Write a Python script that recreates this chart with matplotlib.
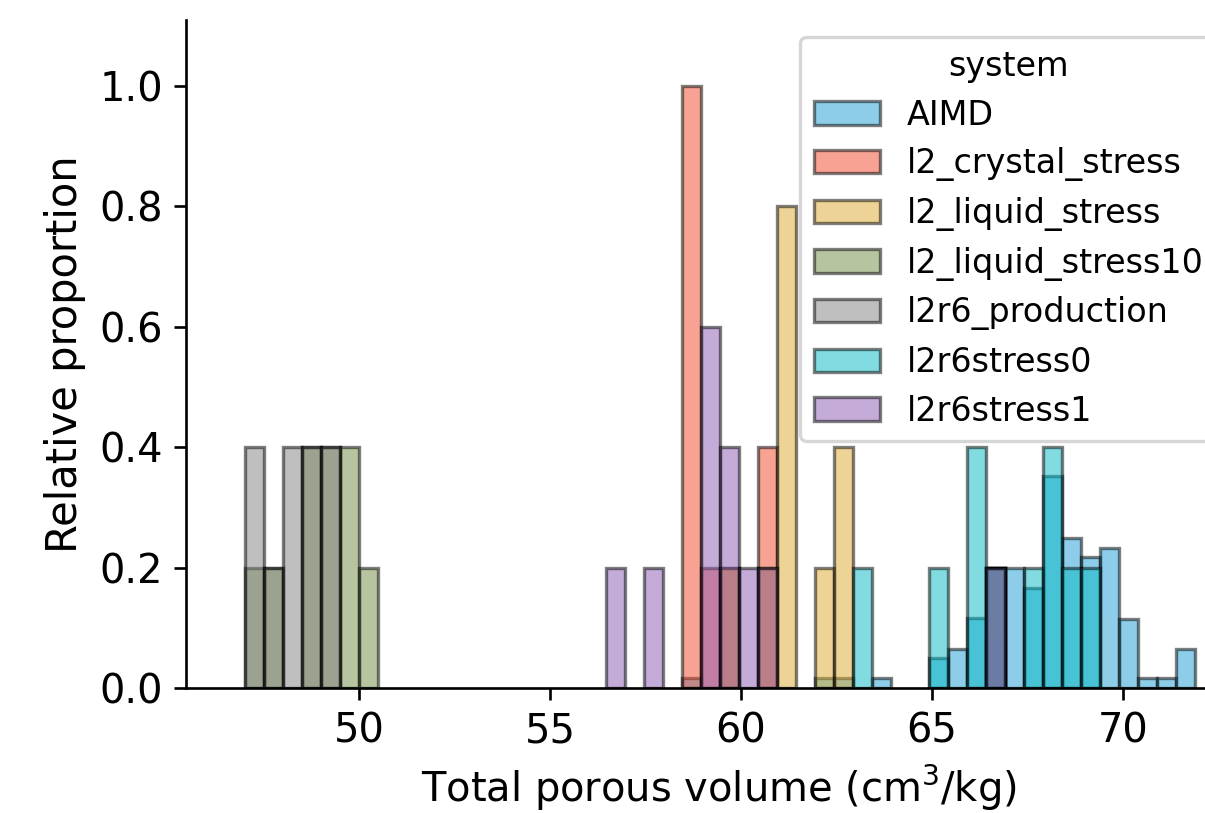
import numpy as np
import matplotlib
matplotlib.use("Agg")
import matplotlib.pyplot as plt
from matplotlib.patches import Patch

# histogram bins shared by all systems
bin_lo, bin_hi, n_bins = 47.02, 71.88, 50

systems = ["AIMD", "l2_crystal_stress", "l2_liquid_stress", "l2_liquid_stress10",
           "l2r6_production", "l2r6stress0", "l2r6stress1"]

# bin index -> relative proportion
aimd_bins = [23, 30, 31, 33, 36, 37, 38, 39, 40, 41, 42, 43, 44, 45, 46, 47, 48, 49]
aimd_vals = [0.017, 0.017, 0.017, 0.017, 0.05, 0.064, 0.116, 0.08, 0.2, 0.166, 0.352,
             0.25, 0.217, 0.233, 0.114, 0.017, 0.017, 0.064]
crystal_bins = [23, 24, 25, 27, 39]
crystal_vals = [1.0, 0.2, 0.2, 0.4, 0.2]
liquid_bins = [25, 27, 28, 30, 31, 39]
liquid_vals = [0.2, 0.2, 0.8, 0.2, 0.4, 0.2]
liquid10_bins = [0, 1, 3, 4, 5, 6, 39]
liquid10_vals = [0.2, 0.2, 0.4, 0.4, 0.4, 0.2, 0.2]
prod_bins = [0, 1, 2, 3, 4, 39]
prod_vals = [0.4, 0.2, 0.4, 0.4, 0.4, 0.2]
stress0_bins = [32, 36, 38, 39, 41, 42, 43, 44]
stress0_vals = [0.2, 0.2, 0.4, 0.2, 0.2, 0.4, 0.2, 0.2]
stress1_bins = [19, 21, 24, 25, 26, 27, 39]
stress1_vals = [0.2, 0.2, 0.6, 0.4, 0.2, 0.2, 0.2]

colors = ["#1D9DD5", "#F34729", "#DDA92D", "#6F8D43", "#818181", "#05B9C3", "#8B59B3"]

data = [(aimd_bins, aimd_vals), (crystal_bins, crystal_vals), (liquid_bins, liquid_vals),
        (liquid10_bins, liquid10_vals), (prod_bins, prod_vals),
        (stress0_bins, stress0_vals), (stress1_bins, stress1_vals)]

edges = np.linspace(bin_lo, bin_hi, n_bins + 1)
width = edges[1] - edges[0]

fig = plt.figure(figsize=(1205 / 240, 813 / 240), dpi=240)
# axes run past the right edge, the original picture is cropped there
ax = fig.add_axes([0.1544, 0.1538, 0.8838, 0.8217])

for (b, v), c in zip(data, colors):
    b = np.array(b)
    ax.bar(edges[b], v, width=width, align="edge", color=c, alpha=0.5,
           edgecolor="black", linewidth=1.0)

ax.set_xlim(45.47, 73.35)
ax.set_ylim(0, 1.11)
ax.set_xticks([50, 55, 60, 65, 70])
ax.set_yticks([0.0, 0.2, 0.4, 0.6, 0.8, 1.0])
ax.tick_params(labelsize=12)
ax.spines["top"].set_visible(False)
ax.spines["right"].set_visible(False)
ax.set_xlabel("Total porous volume (cm$^3$/kg)", fontsize=12, labelpad=3.5)
ax.set_ylabel("Relative proportion", fontsize=12.5)

handles = [Patch(facecolor=c, edgecolor="black", alpha=0.5, linewidth=1.0) for c in colors]
ax.legend(handles, systems, title="system", loc="upper right",
          bbox_to_anchor=(1 - 17 / 1065, 1), fontsize=10, title_fontsize=10,
          labelspacing=0.47)

fig.savefig("out.png", dpi=240)
